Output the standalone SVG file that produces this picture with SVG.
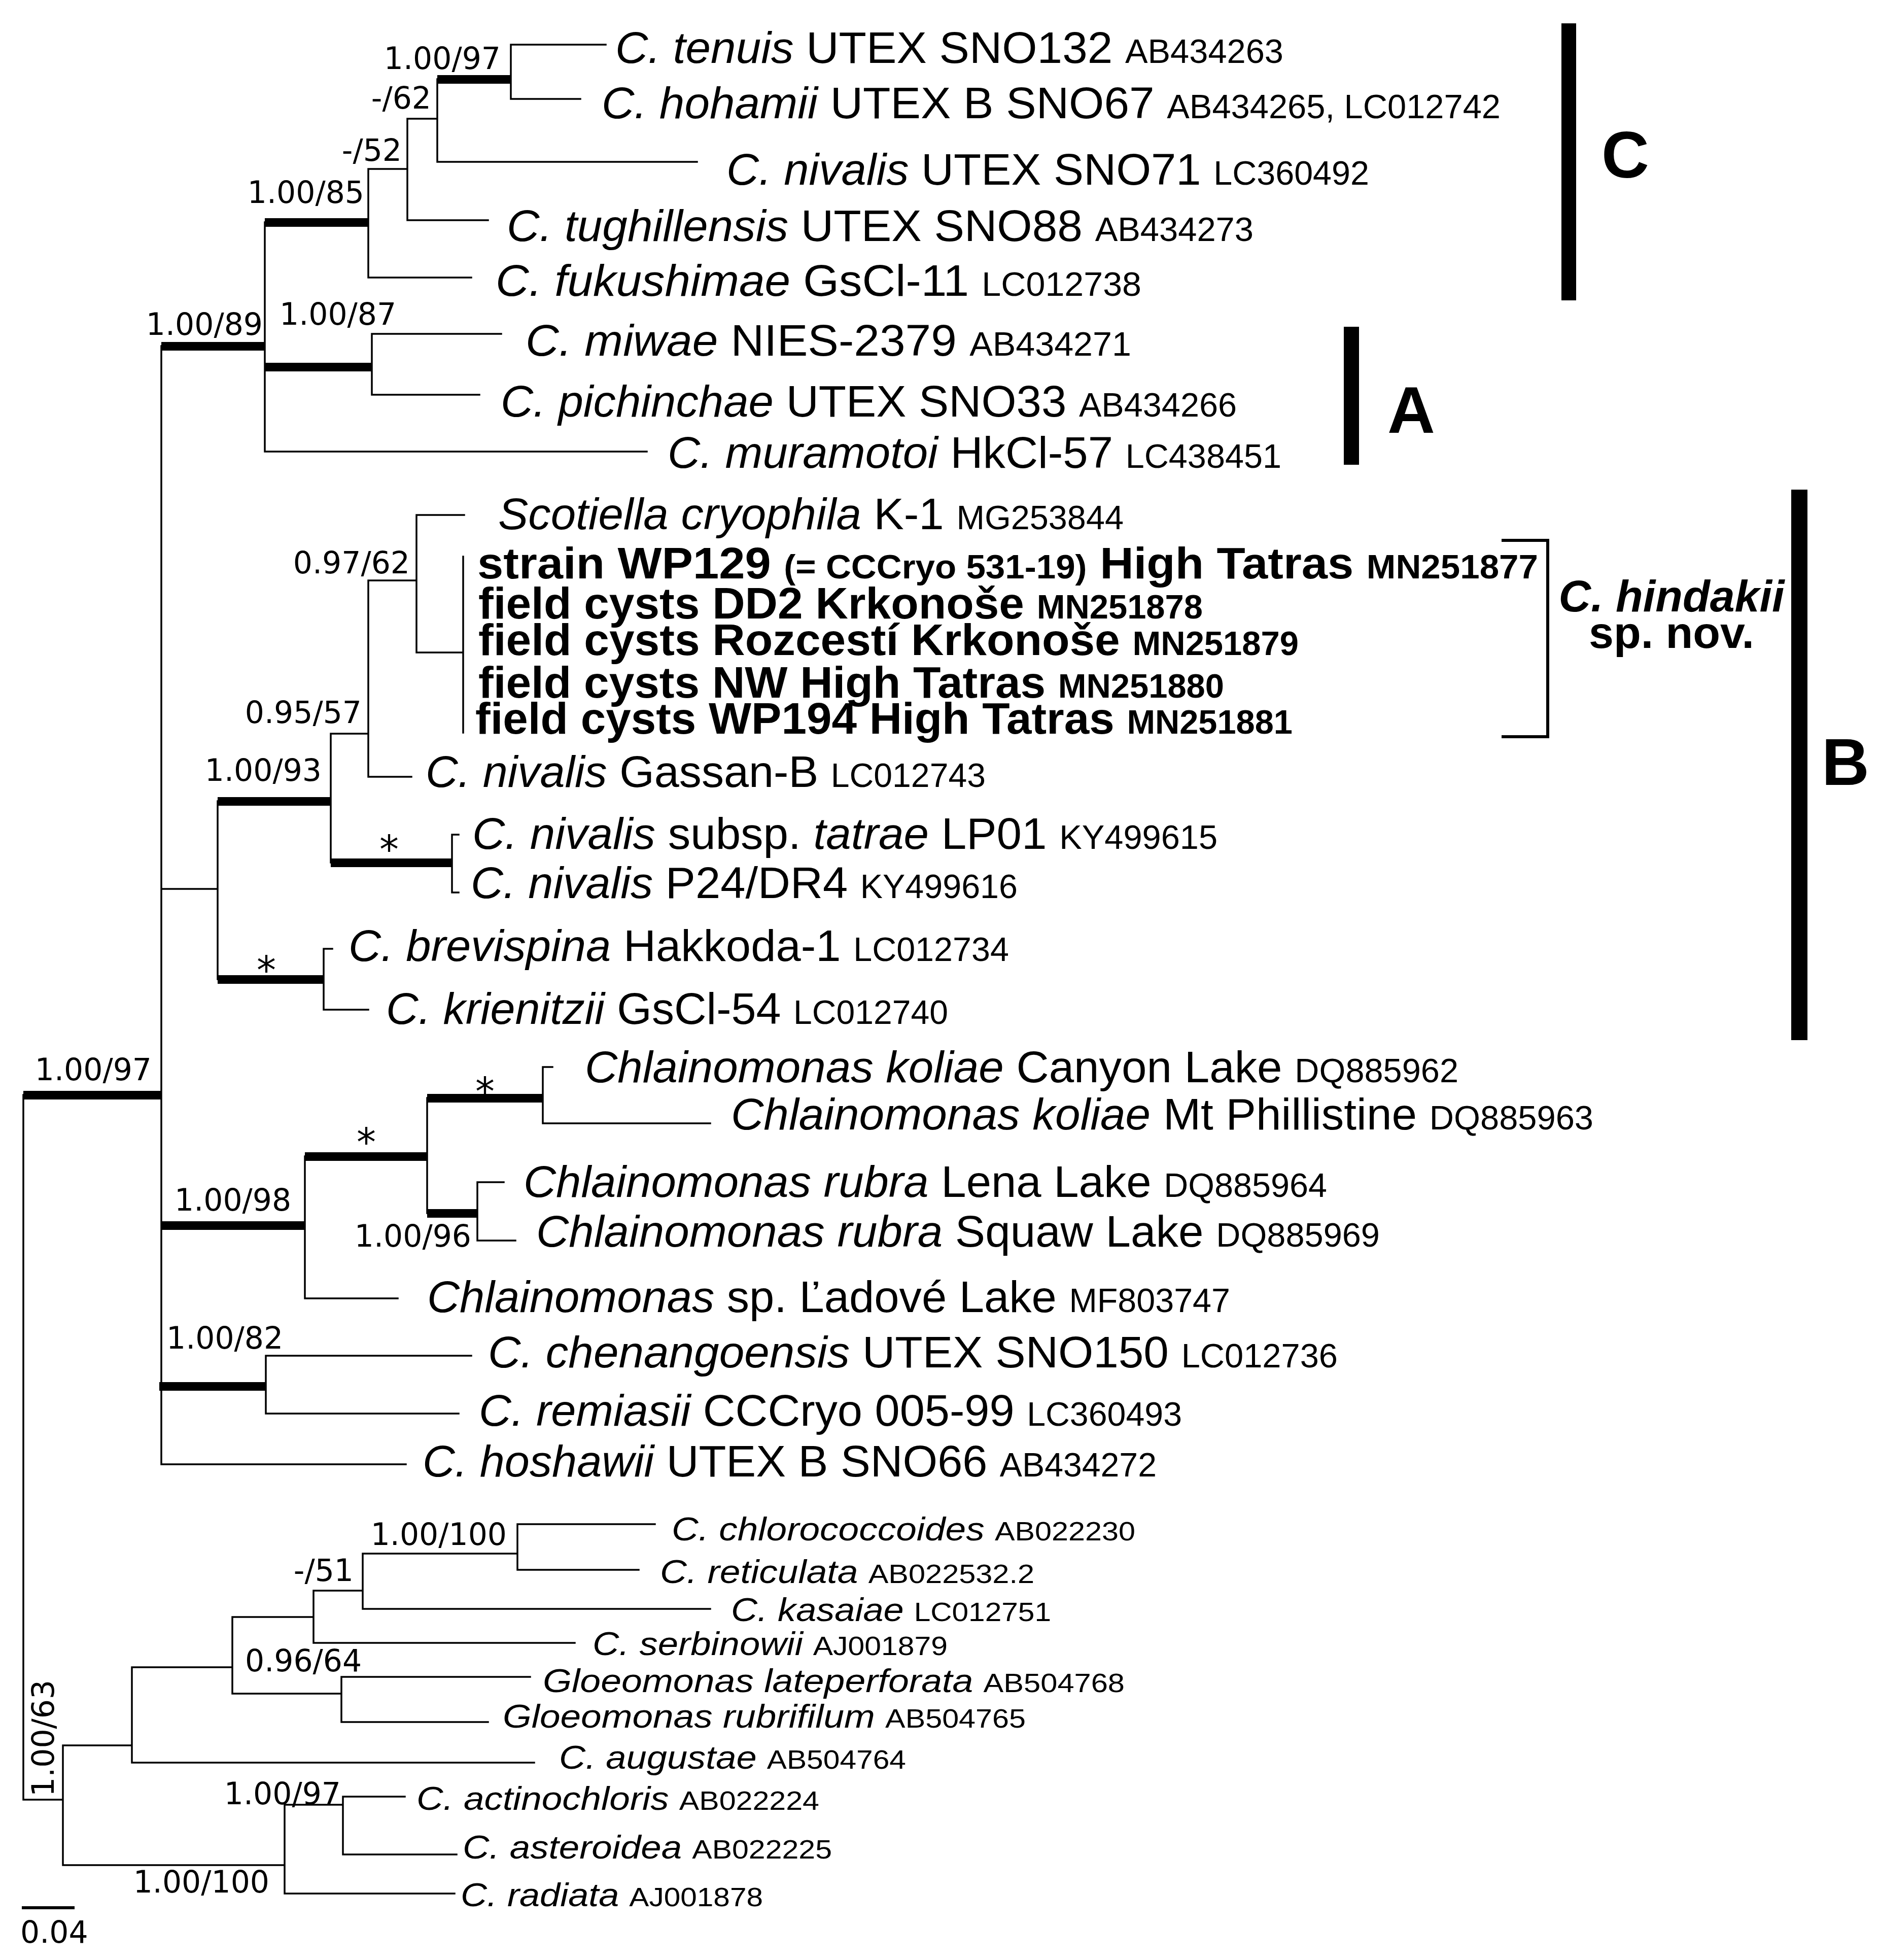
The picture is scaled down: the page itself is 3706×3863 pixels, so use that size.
<svg xmlns="http://www.w3.org/2000/svg" width="3706" height="3863" viewBox="0 0 3706 3863">
<style>
.ln{fill:none;stroke:#000;stroke-width:3.5;stroke-linecap:square}
.tk{fill:#000}
.t{font-family:"Liberation Sans",Arial,sans-serif;font-size:88px;fill:#000}
.s{font-family:"Liberation Sans",Arial,sans-serif;font-size:64px;fill:#000}
.i{font-style:italic}
.b{font-weight:bold}
.a{font-size:66px;font-style:normal}
.sa{font-size:52px;font-style:normal}
.sup{font-family:"DejaVu Sans",Verdana,sans-serif;font-size:60px;fill:#000}
.ast{font-family:"DejaVu Sans",Verdana,sans-serif;font-size:76px;fill:#000;text-anchor:middle}
.cl{font-family:"Liberation Sans",Arial,sans-serif;font-size:130px;font-weight:bold;fill:#000;text-anchor:middle}
</style>
<g id="connectors">
<path class="ln" d="M46 2158V3547H124 M318 682V2886 M522 438V890 M726 333V547 M726 333H803 M726 547H929 M803 234V434 M803 234H862 M803 434H962 M862 156V319 M862 319H1374 M1007 88V195 M1007 88H1194 M1007 195H1144 M733 658V778 M733 658H988 M733 778H945 M522 890H1275 M318 1752H429 M429 1579V1930 M652 1446V1700 M652 1446H726 M726 1144V1531 M726 1144H821 M726 1531H811 M821 1015V1286 M821 1015H915 M821 1286H913 M913 1097V1444 M891 1645V1759 M891 1645H904 M891 1759H904 M638 1870V1990 M638 1870H655 M638 1990H726 M601 2279V2559 M601 2559H784 M842 2164V2391 M1070 2103V2214 M1070 2103H1089 M1070 2214H1400 M941 2330V2445 M941 2330H993 M941 2445H1016 M524 2672V2786 M524 2672H929 M524 2786H904 M318 2886H800 M124 3440V3676 M124 3440H260 M260 3286V3474 M260 3474H1053 M260 3286H458 M458 3187V3338 M458 3338H673 M673 3305V3394 M673 3305H1045 M673 3394H962 M458 3187H618 M618 3135V3238 M618 3238H1133 M618 3135H715 M715 3062V3171 M715 3171H1400 M715 3062H1020 M1020 3004V3094 M1020 3004H1291 M1020 3094H1259 M124 3676H561 M561 3557V3732 M561 3732H896 M561 3557H676 M676 3541V3655 M676 3541H798 M676 3655H900"/>
<g class="tk">
<rect x="46" y="2150" width="272" height="17"/>
<rect x="318" y="674" width="204" height="17"/>
<rect x="522" y="430" width="204" height="17"/>
<rect x="862" y="148" width="145" height="17"/>
<rect x="522" y="715" width="211" height="17"/>
<rect x="429" y="1571" width="223" height="17"/>
<rect x="652" y="1692" width="239" height="17"/>
<rect x="429" y="1922" width="209" height="17"/>
<rect x="318" y="2407" width="283" height="17"/>
<rect x="601" y="2271" width="241" height="17"/>
<rect x="842" y="2156" width="228" height="17"/>
<rect x="842" y="2383" width="99" height="17"/>
<rect x="314" y="2724" width="210" height="17"/>
<rect x="43" y="3757" width="104" height="6"/>
</g>
</g>
<g id="support-values">
<text class="sup" x="987" y="136" text-anchor="end">1.00/97</text>
<text class="sup" x="850" y="214" text-anchor="end">-/62</text>
<text class="sup" x="792" y="317" text-anchor="end">-/52</text>
<text class="sup" x="718" y="400" text-anchor="end">1.00/85</text>
<text class="sup" x="518" y="660" text-anchor="end">1.00/89</text>
<text class="sup" x="551" y="640">1.00/87</text>
<text class="sup" x="808" y="1130" text-anchor="end">0.97/62</text>
<text class="sup" x="713" y="1425" text-anchor="end">0.95/57</text>
<text class="sup" x="634" y="1539" text-anchor="end">1.00/93</text>
<text class="ast" x="767" y="1701">*</text>
<text class="ast" x="525" y="1939">*</text>
<text class="sup" x="299" y="2129" text-anchor="end">1.00/97</text>
<text class="ast" x="956" y="2178">*</text>
<text class="ast" x="722" y="2278">*</text>
<text class="sup" x="344" y="2386">1.00/98</text>
<text class="sup" x="929" y="2457" text-anchor="end">1.00/96</text>
<text class="sup" x="328" y="2658">1.00/82</text>
<text class="sup" x="999" y="3045" text-anchor="end">1.00/100</text>
<text class="sup" x="697" y="3116" text-anchor="end">-/51</text>
<text class="sup" x="483" y="3294">0.96/64</text>
<text class="sup" x="672" y="3556" text-anchor="end">1.00/97</text>
<text class="sup" x="531" y="3730" text-anchor="end">1.00/100</text>
<text class="sup" transform="translate(106,3541) rotate(-90)">1.00/63</text>
<text class="sup" x="40" y="3829">0.04</text>
</g>
<g id="taxa">
<g id="t-tenuis"><text class="t" x="1213" y="124" textLength="1317" lengthAdjust="spacingAndGlyphs"><tspan class="i">C. tenuis</tspan> UTEX SNO132 <tspan class="a">AB434263</tspan></text></g>
<g id="t-hohamii"><text class="t" x="1186" y="233" textLength="1772" lengthAdjust="spacingAndGlyphs"><tspan class="i">C. hohamii</tspan> UTEX B SNO67 <tspan class="a">AB434265, LC012742</tspan></text></g>
<g id="t-nivalis71"><text class="t" x="1432" y="364" textLength="1267" lengthAdjust="spacingAndGlyphs"><tspan class="i">C. nivalis</tspan> UTEX SNO71 <tspan class="a">LC360492</tspan></text></g>
<g id="t-tughillensis"><text class="t" x="999" y="475" textLength="1472" lengthAdjust="spacingAndGlyphs"><tspan class="i">C. tughillensis</tspan> UTEX SNO88 <tspan class="a">AB434273</tspan></text></g>
<g id="t-fukushimae"><text class="t" x="977" y="583" textLength="1273" lengthAdjust="spacingAndGlyphs"><tspan class="i">C. fukushimae</tspan> GsCl-11 <tspan class="a">LC012738</tspan></text></g>
<g id="t-miwae"><text class="t" x="1036" y="701" textLength="1194" lengthAdjust="spacingAndGlyphs"><tspan class="i">C. miwae</tspan> NIES-2379 <tspan class="a">AB434271</tspan></text></g>
<g id="t-pichinchae"><text class="t" x="987" y="821" textLength="1451" lengthAdjust="spacingAndGlyphs"><tspan class="i">C. pichinchae</tspan> UTEX SNO33 <tspan class="a">AB434266</tspan></text></g>
<g id="t-muramotoi"><text class="t" x="1316" y="922" textLength="1210" lengthAdjust="spacingAndGlyphs"><tspan class="i">C. muramotoi</tspan> HkCl-57 <tspan class="a">LC438451</tspan></text></g>
<g id="t-scotiella"><text class="t" x="982" y="1043" textLength="1233" lengthAdjust="spacingAndGlyphs"><tspan class="i">Scotiella cryophila</tspan> K-1 <tspan class="a">MG253844</tspan></text></g>
<g id="t-wp129"><text class="t b" x="941" y="1140" textLength="2091" lengthAdjust="spacingAndGlyphs">strain WP129 <tspan class="a">(= CCCryo 531-19)</tspan> High Tatras <tspan class="a">MN251877</tspan></text></g>
<g id="t-dd2"><text class="t b" x="943" y="1219" textLength="1428" lengthAdjust="spacingAndGlyphs">field cysts DD2 Krkonoše <tspan class="a">MN251878</tspan></text></g>
<g id="t-rozcesti"><text class="t b" x="943" y="1291" textLength="1617" lengthAdjust="spacingAndGlyphs">field cysts Rozcestí Krkonoše <tspan class="a">MN251879</tspan></text></g>
<g id="t-nw"><text class="t b" x="943" y="1375" textLength="1470" lengthAdjust="spacingAndGlyphs">field cysts NW High Tatras <tspan class="a">MN251880</tspan></text></g>
<g id="t-wp194"><text class="t b" x="937" y="1446" textLength="1611" lengthAdjust="spacingAndGlyphs">field cysts WP194 High Tatras <tspan class="a">MN251881</tspan></text></g>
<g id="t-gassan"><text class="t" x="839" y="1551" textLength="1104" lengthAdjust="spacingAndGlyphs"><tspan class="i">C. nivalis</tspan> Gassan-B <tspan class="a">LC012743</tspan></text></g>
<g id="t-tatrae"><text class="t" x="931" y="1673" textLength="1469" lengthAdjust="spacingAndGlyphs"><tspan class="i">C. nivalis</tspan> subsp. <tspan class="i">tatrae</tspan> LP01 <tspan class="a">KY499615</tspan></text></g>
<g id="t-p24"><text class="t" x="928" y="1770" textLength="1078" lengthAdjust="spacingAndGlyphs"><tspan class="i">C. nivalis</tspan> P24/DR4 <tspan class="a">KY499616</tspan></text></g>
<g id="t-brevispina"><text class="t" x="687" y="1894" textLength="1302" lengthAdjust="spacingAndGlyphs"><tspan class="i">C. brevispina</tspan> Hakkoda-1 <tspan class="a">LC012734</tspan></text></g>
<g id="t-krienitzii"><text class="t" x="761" y="2018" textLength="1108" lengthAdjust="spacingAndGlyphs"><tspan class="i">C. krienitzii</tspan> GsCl-54 <tspan class="a">LC012740</tspan></text></g>
<g id="t-koliae1"><text class="t" x="1153" y="2133" textLength="1722" lengthAdjust="spacingAndGlyphs"><tspan class="i">Chlainomonas koliae</tspan> Canyon Lake <tspan class="a">DQ885962</tspan></text></g>
<g id="t-koliae2"><text class="t" x="1441" y="2226" textLength="1700" lengthAdjust="spacingAndGlyphs"><tspan class="i">Chlainomonas koliae</tspan> Mt Phillistine <tspan class="a">DQ885963</tspan></text></g>
<g id="t-rubra1"><text class="t" x="1032" y="2359" textLength="1584" lengthAdjust="spacingAndGlyphs"><tspan class="i">Chlainomonas rubra</tspan> Lena Lake <tspan class="a">DQ885964</tspan></text></g>
<g id="t-rubra2"><text class="t" x="1057" y="2457" textLength="1663" lengthAdjust="spacingAndGlyphs"><tspan class="i">Chlainomonas rubra</tspan> Squaw Lake <tspan class="a">DQ885969</tspan></text></g>
<g id="t-chlsp"><text class="t" x="842" y="2586" textLength="1583" lengthAdjust="spacingAndGlyphs"><tspan class="i">Chlainomonas</tspan> sp. Ľadové Lake <tspan class="a">MF803747</tspan></text></g>
<g id="t-chenangoensis"><text class="t" x="962" y="2695" textLength="1675" lengthAdjust="spacingAndGlyphs"><tspan class="i">C. chenangoensis</tspan> UTEX SNO150 <tspan class="a">LC012736</tspan></text></g>
<g id="t-remiasii"><text class="t" x="944" y="2810" textLength="1386" lengthAdjust="spacingAndGlyphs"><tspan class="i">C. remiasii</tspan> CCCryo 005-99 <tspan class="a">LC360493</tspan></text></g>
<g id="t-hoshawii"><text class="t" x="833" y="2910" textLength="1447" lengthAdjust="spacingAndGlyphs"><tspan class="i">C. hoshawii</tspan> UTEX B SNO66 <tspan class="a">AB434272</tspan></text></g>
<g id="t-chlorococcoides"><text class="s" x="1324" y="3036" textLength="914" lengthAdjust="spacingAndGlyphs"><tspan class="i">C. chlorococcoides</tspan> <tspan class="sa">AB022230</tspan></text></g>
<g id="t-reticulata"><text class="s" x="1301" y="3120" textLength="738" lengthAdjust="spacingAndGlyphs"><tspan class="i">C. reticulata</tspan> <tspan class="sa">AB022532.2</tspan></text></g>
<g id="t-kasaiae"><text class="s" x="1441" y="3195" textLength="631" lengthAdjust="spacingAndGlyphs"><tspan class="i">C. kasaiae</tspan> <tspan class="sa">LC012751</tspan></text></g>
<g id="t-serbinowii"><text class="s" x="1168" y="3262" textLength="700" lengthAdjust="spacingAndGlyphs"><tspan class="i">C. serbinowii</tspan> <tspan class="sa">AJ001879</tspan></text></g>
<g id="t-lateperforata"><text class="s" x="1070" y="3335" textLength="1147" lengthAdjust="spacingAndGlyphs"><tspan class="i">Gloeomonas lateperforata</tspan> <tspan class="sa">AB504768</tspan></text></g>
<g id="t-rubrifilum"><text class="s" x="991" y="3405" textLength="1031" lengthAdjust="spacingAndGlyphs"><tspan class="i">Gloeomonas rubrifilum</tspan> <tspan class="sa">AB504765</tspan></text></g>
<g id="t-augustae"><text class="s" x="1102" y="3486" textLength="684" lengthAdjust="spacingAndGlyphs"><tspan class="i">C. augustae</tspan> <tspan class="sa">AB504764</tspan></text></g>
<g id="t-actinochloris"><text class="s" x="821" y="3567" textLength="794" lengthAdjust="spacingAndGlyphs"><tspan class="i">C. actinochloris</tspan> <tspan class="sa">AB022224</tspan></text></g>
<g id="t-asteroidea"><text class="s" x="912" y="3663" textLength="728" lengthAdjust="spacingAndGlyphs"><tspan class="i">C. asteroidea</tspan> <tspan class="sa">AB022225</tspan></text></g>
<g id="t-radiata"><text class="s" x="908" y="3757" textLength="596" lengthAdjust="spacingAndGlyphs"><tspan class="i">C. radiata</tspan> <tspan class="sa">AJ001878</tspan></text></g>
</g>
<g id="clade-C"><rect x="3078" y="46" width="29" height="546"/><text class="cl" x="3204" y="350">C</text></g>
<g id="clade-A"><rect x="2649" y="644" width="30" height="272"/><text class="cl" x="2782" y="853">A</text></g>
<g id="clade-B"><rect x="3531" y="965" width="32" height="1085"/><text class="cl" x="3638" y="1547">B</text></g>
<g id="hindakii">
<path d="M2960 1065H3051V1452H2960" fill="none" stroke="#000" stroke-width="6"/>
<text class="t b" x="3295" y="1205" text-anchor="middle"><tspan class="i">C. hindakii</tspan></text>
<text class="t b" x="3295" y="1277" text-anchor="middle">sp. nov.</text>
</g>
</svg>
